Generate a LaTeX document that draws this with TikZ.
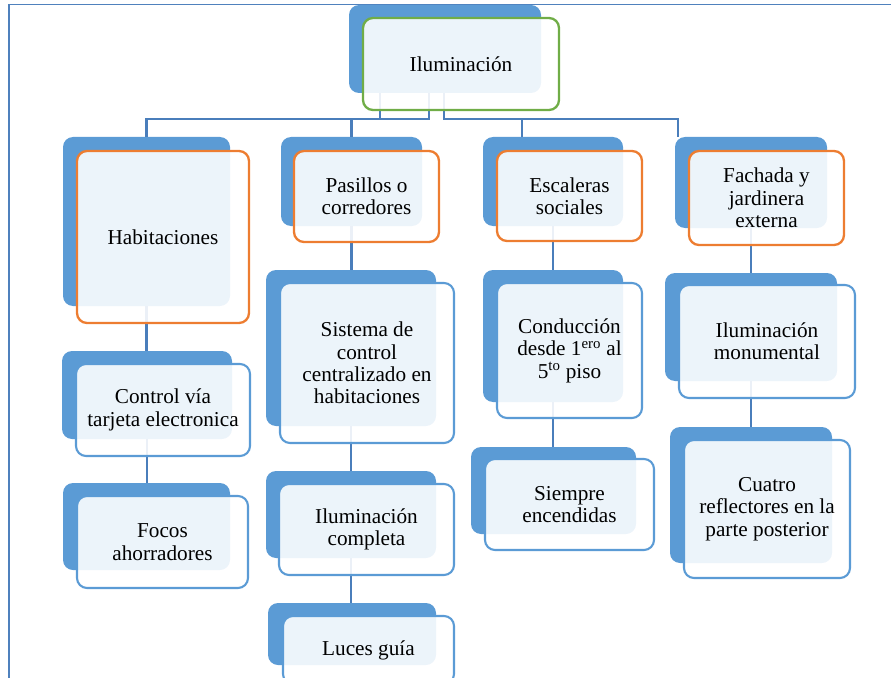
\documentclass[tikz,border=0pt]{standalone}
\usepackage{fontspec}
\setmainfont{Liberation Serif}
\usetikzlibrary{fit,calc}

\definecolor{boxblue}{HTML}{5B9BD5}
\definecolor{linkblue}{HTML}{4A7EBB}
\definecolor{framecol}{HTML}{4F81BD}
\definecolor{accorange}{HTML}{ED7D31}
\definecolor{accgreen}{HTML}{70AD47}

\tikzset{
  backb/.style={fill=boxblue, draw=none, rounded corners=10bp, inner sep=0pt},
  frontb/.style={fill=white, fill opacity=0.89, line width=2.1bp,
                 rounded corners=10bp, inner sep=0pt},
  levelone/.style={frontb, draw=accorange, line width=2.3bp},
  leveltop/.style={frontb, draw=accgreen, line width=2.3bp},
  leveltwo/.style={frontb, draw=boxblue},
  lbl/.style={align=center, inner sep=0pt, font=\fontsize{21.3}{22.5}\selectfont},
  conn/.style={draw=linkblue, line width=2.3bp},
  framel/.style={draw=framecol, line width=1.4bp}
}

\begin{document}
\begin{tikzpicture}[x=1bp,y=-1bp]
\useasboundingbox (0,0) rectangle (891,678);
\clip (0,0) rectangle (891,678);

% page frame
\draw[framel] (9,680) -- (9,4.5) -- (893,4.5);

% blue back plates
\node[backb, fit={(349,5) (541,93)}]   (ilumB) {};
\node[backb, fit={(63,137) (230,306)}] (habB) {};
\node[backb, fit={(281,137) (422,226)}] (pasB) {};
\node[backb, fit={(483,137) (623,226)}] (escB) {};
\node[backb, fit={(675,137) (827,228)}] (facB) {};
\node[backb, fit={(62,351) (232,439)}] (ctlB) {};
\node[backb, fit={(63,483) (230,570)}] (focB) {};
\node[backb, fit={(266,270) (436,426)}] (sisB) {};
\node[backb, fit={(266,471) (436,558)}] (comB) {};
\node[backb, fit={(268,603) (436,665)}] (lucB) {};
\node[backb, fit={(483,270) (623,402)}] (conB) {};
\node[backb, fit={(471,447) (636,534)}] (siemB) {};
\node[backb, fit={(665,273) (837,381)}] (monB) {};
\node[backb, fit={(670,427) (832,563)}] (cuaB) {};

% connectors
\draw[conn] ($(ilumB.south west)+(31,0)$) -- ++(0,26) -| (habB.north);
\draw[conn] ($(ilumB.south west)+(80,0)$) -- ++(0,26) -| (pasB.north);
\draw[conn] ($(ilumB.south west)+(95,0)$) -- ++(0,26) -| ($(escB.north west)+(39,0)$);
\draw[conn] ($(ilumB.south west)+(95,0)$) -- ++(0,26) -| ($(facB.north west)+(3,0)$);
\draw[conn] (habB.south) -- (habB.south |- ctlB.north);
\draw[conn] (ctlB.south) -- (ctlB.south |- focB.north);
\draw[conn] (pasB.south) -- (pasB.south |- sisB.north);
\draw[conn] (sisB.south) -- (sisB.south |- comB.north);
\draw[conn] (comB.south) -- (comB.south |- lucB.north);
\draw[conn] (escB.south) -- (escB.south |- conB.north);
\draw[conn] (conB.south) -- (conB.south |- siemB.north);
\draw[conn] (facB.south) -- (facB.south |- monB.north);
\draw[conn] (monB.south) -- (monB.south |- cuaB.north);

% front cards
\node[leveltop, fit={(363,18) (559,110)}] (ilumF) {};
\node[levelone, fit={(77,151) (249,323)}] (habF) {};
\node[levelone, fit={(294,151) (439,242)}] (pasF) {};
\node[levelone, fit={(497,151) (642,241)}] (escF) {};
\node[levelone, fit={(689,151) (844,245)}] (facF) {};
\node[leveltwo, fit={(76,364) (250,456)}] (ctlF) {};
\node[leveltwo, fit={(77,496) (248,588)}] (focF) {};
\node[leveltwo, fit={(280,283) (454,443)}] (sisF) {};
\node[leveltwo, fit={(279,484) (454,575)}] (comF) {};
\node[leveltwo, fit={(283,616) (454,684)}] (lucF) {};
\node[leveltwo, fit={(497,283) (642,418)}] (conF) {};
\node[leveltwo, fit={(485,459) (654,550)}] (siemF) {};
\node[leveltwo, fit={(679,285) (855,398)}] (monF) {};
\node[leveltwo, fit={(684,440) (850,578)}] (cuaF) {};

% labels
\node[lbl] (ilumT) at (ilumF.center) {Iluminación};
\node[lbl] (habT)  at (habF.center)  {Habitaciones};
\node[lbl] (pasT)  at (pasF.center)  {Pasillos o\\corredores};
\node[lbl] (escT)  at (escF.center)  {Escaleras\\sociales};
\node[lbl] (facT)  at (facF.center)  {Fachada y\\jardinera\\externa};
\node[lbl] (ctlT)  at (ctlF.center)  {Control vía\\tarjeta electronica};
\node[lbl] (focT)  at (focF.center)  {Focos\\ahorradores};
\node[lbl] (sisT)  at (sisF.center)  {Sistema de\\control\\centralizado en\\habitaciones};
\node[lbl] (comT)  at (comF.center)  {Iluminación\\completa};
\node[lbl] (lucT)  at (lucF.center)  {Luces guía};
\node[lbl] (conT)  at (conF.center)  {Conducción\\desde 1\textsuperscript{ero} al\\5\textsuperscript{to} piso};
\node[lbl] (siemT) at (siemF.center) {Siempre\\encendidas};
\node[lbl] (monT)  at (monF.center)  {Iluminación\\monumental};
\node[lbl] (cuaT)  at (cuaF.center)  {Cuatro\\reflectores en la\\parte posterior};
\end{tikzpicture}
\end{document}
